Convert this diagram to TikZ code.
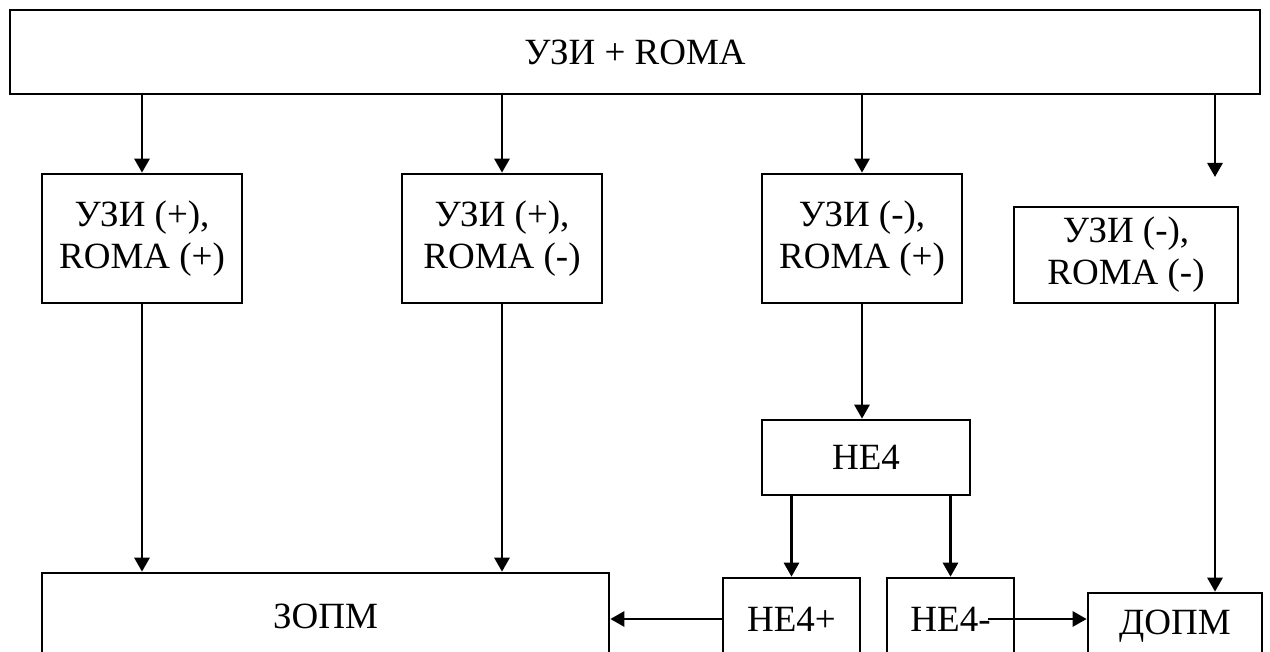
\documentclass[tikz,border=0pt]{standalone}
\usepackage{fontspec}
\setmainfont{Liberation Serif}
\usetikzlibrary{arrows.meta, positioning}

\begin{document}
\begin{tikzpicture}[
  x=0.5pt, y=-0.5pt,
  font=\fontsize{18.5}{21}\selectfont,
  zbox/.style={draw, line width=1.3pt, align=center, inner sep=0pt},
  arr/.style={line width=1.4pt, -{Triangle[width=7.5pt, length=7pt]}}
]
  \clip (0,0) rectangle (1270,652);
  \node[zbox, minimum width=625pt, minimum height=42pt] (T) at (635,52) {УЗИ + ROMA};
  \node[zbox, minimum width=100pt, minimum height=64.5pt] (A) at (142,238.5) {УЗИ (+),\\ROMA (+)};
  \node[zbox, minimum width=100pt, minimum height=64.5pt] (B) at (502,238.5) {УЗИ (+),\\ROMA (-)};
  \node[zbox, minimum width=100pt, minimum height=64.5pt] (C) at (862,238.5) {УЗИ (-),\\ROMA (+)};
  \node[zbox, minimum width=112pt, minimum height=48pt] (D) at (1126,255) {УЗИ (-),\\ROMA (-)};
  \node[zbox, minimum width=104pt, minimum height=37.5pt] (H) at (866,457.5) {HE4};
  \node[zbox, minimum width=68.5pt, minimum height=41pt] (Hp) at (791.5,619) {HE4+};
  \node[zbox, minimum width=63.5pt, minimum height=41pt] (Hm) at (950.5,619) {HE4-};
  \node[zbox, minimum width=283.5pt, minimum height=43.5pt] (Z) at (325.5,616.5) {ЗОПМ};
  \node[zbox, minimum width=87pt, minimum height=33.5pt] (Dp) at (1175,626.5) {ДОПМ};
  \coordinate (d4) at (1215,177);
  \draw[arr] (A |- T.south) -- (A.north);
  \draw[arr] (B |- T.south) -- (B.north);
  \draw[arr] (C |- T.south) -- (C.north);
  \draw[arr] (d4 |- T.south) -- (d4);
  \draw[arr] (A.south) -- (A.south |- Z.north);
  \draw[arr] (B.south) -- (B.south |- Z.north);
  \draw[arr] (C.south) -- (C.south |- H.north);
  \draw[arr] (d4 |- D.south) -- (d4 |- Dp.north);
  \draw[arr] (Hp.north |- H.south) -- (Hp.north);
  \draw[arr] (Hm.north |- H.south) -- (Hm.north);
  \draw[arr] (Hp.west) -- (Hp.west -| Z.east);
  \draw[arr, shorten <=-13.5pt] (Hm.east) -- (Hm.east -| Dp.west);
\end{tikzpicture}
\end{document}
